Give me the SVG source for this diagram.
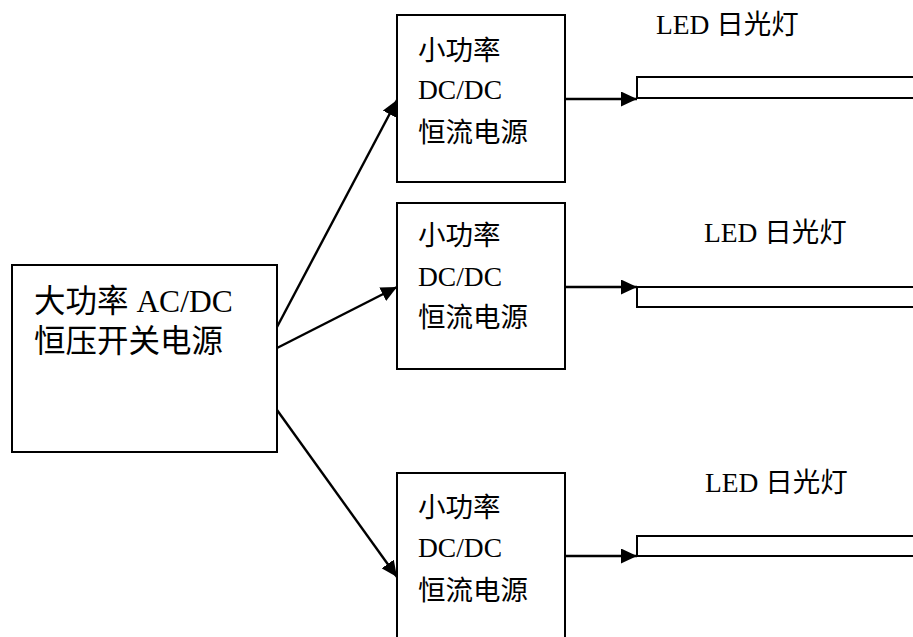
<svg xmlns="http://www.w3.org/2000/svg" width="913" height="637" viewBox="0 0 913 637">
<style>
.box{fill:#fff;stroke:#000;stroke-width:2}
.tube{fill:#fff;stroke:#000;stroke-width:2}
.t{font-family:"Liberation Serif","Noto Sans CJK SC",serif;fill:#000}
.big{font-size:31.5px}
.small{font-size:27.5px}
.led{font-size:27.5px}
.c{stroke:#000;stroke-width:2.4;fill:none;marker-end:url(#ah)}
</style>
<defs>
<marker id="ah" markerUnits="userSpaceOnUse" markerWidth="17" markerHeight="15" viewBox="0 0 17 15" refX="16" refY="7.5" orient="auto">
<path d="M0,0 L16,7.5 L0,15 Z" fill="#000"/>
</marker>
</defs>
<g id="tubes">
<rect class="tube" x="637" y="77" width="300" height="21"/>
<rect class="tube" x="637" y="287" width="300" height="20"/>
<rect class="tube" x="637" y="536" width="300" height="20"/>
</g>
<g id="main">
<rect class="box" x="12" y="265" width="265" height="187"/>
<text class="t big" x="34" y="312">大功率 AC/DC</text>
<text class="t big" x="34" y="352">恒压开关电源</text>
</g>
<g id="dc1">
<rect class="box" x="397" y="15" width="168" height="167"/>
<text class="t small" x="418" y="60">小功率</text>
<text class="t small" x="418" y="99">DC/DC</text>
<text class="t small" x="418" y="142">恒流电源</text>
</g>
<g id="dc2">
<rect class="box" x="397" y="203" width="168" height="166"/>
<text class="t small" x="418" y="245">小功率</text>
<text class="t small" x="418" y="286">DC/DC</text>
<text class="t small" x="418" y="327">恒流电源</text>
</g>
<g id="dc3">
<rect class="box" x="397" y="473" width="168" height="200"/>
<text class="t small" x="418" y="517">小功率</text>
<text class="t small" x="418" y="557">DC/DC</text>
<text class="t small" x="418" y="600">恒流电源</text>
</g>
<g id="led1"><text class="t led" x="656" y="34">LED 日光灯</text></g>
<g id="led2"><text class="t led" x="704" y="242">LED 日光灯</text></g>
<g id="led3"><text class="t led" x="705" y="492">LED 日光灯</text></g>
<g id="connectors">
<line class="c" x1="277" y1="327" x2="397" y2="100"/>
<line class="c" x1="277" y1="348" x2="397" y2="287"/>
<line class="c" x1="277" y1="410" x2="397" y2="577"/>
<line class="c" x1="565" y1="99" x2="637" y2="99"/>
<line class="c" x1="565" y1="287" x2="637" y2="287"/>
<line class="c" x1="565" y1="556" x2="637" y2="556"/>
</g>
</svg>
